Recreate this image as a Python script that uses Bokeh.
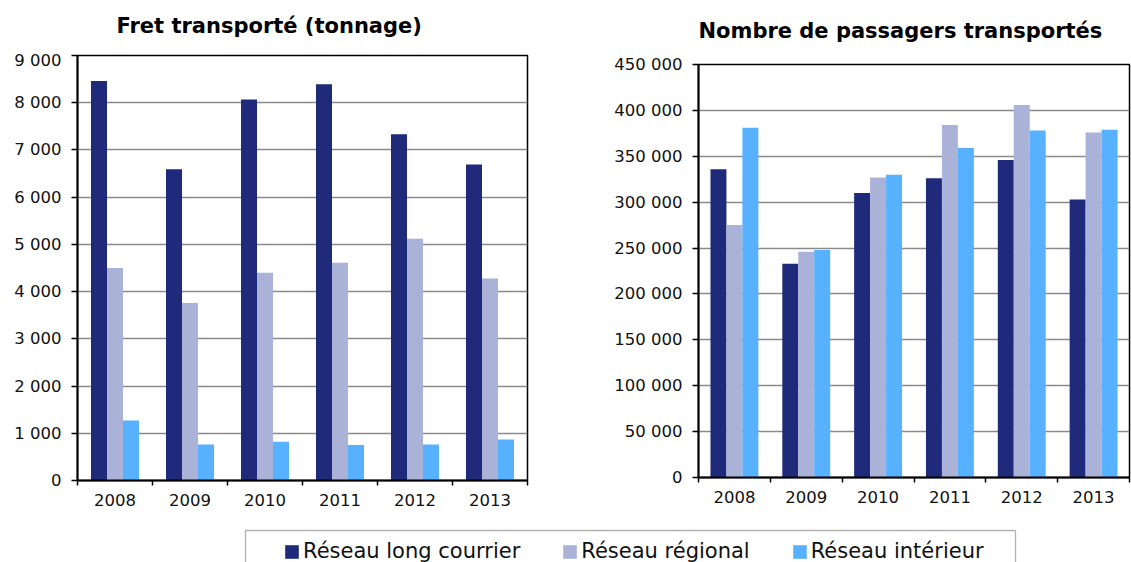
from bokeh.plotting import figure
from bokeh.models import (ColumnDataSource, FixedTicker, CustomJSTickFormatter, Range1d,
                          Legend, LegendItem, BoxAnnotation, Label)
from bokeh.transform import dodge
from bokeh.layouts import column, row
from bokeh.embed import file_html
from bokeh.resources import INLINE

# ---- data ----
years = ["2008", "2009", "2010", "2011", "2012", "2013"]
series_names = ["Réseau long courrier", "Réseau régional", "Réseau intérieur"]
titles = ["Fret transporté (tonnage)", "Nombre de passagers transportés"]

fret_long = [8460, 6590, 8070, 8390, 7330, 6690]
fret_reg = [4500, 3760, 4400, 4610, 5120, 4280]
fret_int = [1270, 760, 820, 750, 760, 870]

pax_long = [336000, 233000, 310000, 326000, 346000, 303000]
pax_reg = [275000, 246000, 327000, 384000, 406000, 376000]
pax_int = [381000, 248000, 330000, 359000, 378000, 379000]

fret_ticks = [0, 1000, 2000, 3000, 4000, 5000, 6000, 7000, 8000, 9000]
pax_ticks = [0, 50000, 100000, 150000, 200000, 250000, 300000, 350000, 400000, 450000]

colors = ["#1f2a7a", "#aab2d8", "#57b1ff"]
FONT = "DejaVu Sans"

thousands = CustomJSTickFormatter(code="""
    return Math.round(tick).toString().replace(/\\B(?=(\\d{3})+(?!\\d))/g, ' ');
""")
year_fmt = CustomJSTickFormatter(args=dict(labels=years), code="""
    const i = Math.floor(tick);
    return (i >= 0 && i < labels.length) ? labels[i] : '';
""")

TOP_H = 50


def make_chart(vals, ticks, width, height, mb_left, mb_right, mb_top, mb_bottom, bar_w):
    n = len(years)
    src = ColumnDataSource(dict(x=[i + 0.5 for i in range(n)], a=vals[0], b=vals[1], c=vals[2]))
    p = figure(width=width, height=height, output_backend="svg", toolbar_location=None,
               x_range=Range1d(0, n), y_range=Range1d(ticks[0], ticks[-1]),
               min_border_left=mb_left, min_border_right=mb_right,
               min_border_top=mb_top, min_border_bottom=mb_bottom)
    p.frame_align = False
    for col, off, c in zip(["a", "b", "c"], [-bar_w, 0, bar_w], colors):
        p.vbar(x=dodge("x", off, range=p.x_range), top=col, width=bar_w, bottom=0,
               source=src, fill_color=c, line_color=None)
    p.xgrid.visible = False
    p.ygrid.grid_line_color = "#8a8a8a"
    p.ygrid.grid_line_width = 1.5
    p.outline_line_color = "black"
    p.outline_line_width = 1.5
    p.background_fill_color = "white"
    p.border_fill_color = "white"

    yax = p.yaxis[0]
    yax.ticker = FixedTicker(ticks=ticks)
    yax.formatter = thousands
    yax.axis_line_color = "black"
    yax.axis_line_width = 2
    yax.major_tick_out = 6
    yax.major_tick_in = 0
    yax.major_tick_line_color = "black"
    yax.major_tick_line_width = 1.5
    yax.minor_tick_line_color = None
    yax.major_label_text_font = FONT
    yax.major_label_text_font_size = "16.5px"
    yax.major_label_text_color = "#111111"
    yax.major_label_standoff = 10

    xax = p.xaxis[0]
    xax.ticker = FixedTicker(ticks=[i + 0.5 for i in range(n)], minor_ticks=list(range(n + 1)))
    xax.formatter = year_fmt
    xax.axis_line_color = "black"
    xax.axis_line_width = 2
    xax.major_tick_line_color = None
    xax.major_tick_out = 0
    xax.major_tick_in = 0
    xax.minor_tick_line_color = "black"
    xax.minor_tick_line_width = 1.5
    xax.minor_tick_out = 5
    xax.minor_tick_in = 0
    xax.major_label_text_font = FONT
    xax.major_label_text_font_size = "16.5px"
    xax.major_label_text_color = "#111111"
    xax.major_label_standoff = 8
    return p


# ---- title strip ----
p0 = figure(width=1131, height=TOP_H, output_backend="svg", toolbar_location=None,
            x_range=Range1d(0, 1131), y_range=Range1d(0, TOP_H),
            x_axis_type=None, y_axis_type=None, min_border=0)
p0.grid.visible = False
p0.outline_line_color = None
p0.background_fill_color = "white"
p0.border_fill_color = "white"
for t, tx, ty in zip(titles, [116, 698], [25, 20]):
    p0.add_layout(Label(x=tx, y=ty, text=t, text_font=FONT, text_font_size="21px",
                        text_font_style="bold", text_color="black",
                        text_baseline="alphabetic", text_align="left"))

p1 = make_chart([fret_long, fret_reg, fret_int], fret_ticks,
                600, 514 - TOP_H, 77, 73, 55 - TOP_H, 34, 16 / 75)
p2 = make_chart([pax_long, pax_reg, pax_int], pax_ticks,
                531, 514 - TOP_H, 98, 2, 64 - TOP_H, 37, 16 / 72)

# ---- legend strip ----
p3 = figure(width=1131, height=48, output_backend="svg", toolbar_location=None,
            x_range=Range1d(0, 1131), y_range=Range1d(0, 48),
            x_axis_type=None, y_axis_type=None, min_border=0)
p3.grid.visible = False
p3.outline_line_color = None
p3.background_fill_color = "white"
p3.border_fill_color = "white"
p3.add_layout(BoxAnnotation(left=245, right=1015, top=32, bottom=-30, fill_color=None,
                            line_color="black", line_width=1.3))
items = []
for name, c in zip(series_names, colors):
    r = p3.vbar(x=[0], top=[0], width=1, fill_color=c, line_color=None, visible=False)
    items.append(LegendItem(label=name, renderers=[r]))
leg = Legend(items=items, orientation="horizontal", location=(283, -1),
             padding=0, spacing=41, margin=0, border_line_color=None,
             background_fill_alpha=0, glyph_width=17, glyph_height=17, label_standoff=3,
             inactive_fill_alpha=0,
             label_text_font=FONT, label_text_font_size="21px", label_text_color="#111111")
p3.add_layout(leg)

layout = column(p0, row(p1, p2, spacing=0), p3, spacing=0)
open("out.html", "w").write(file_html(layout, INLINE))
